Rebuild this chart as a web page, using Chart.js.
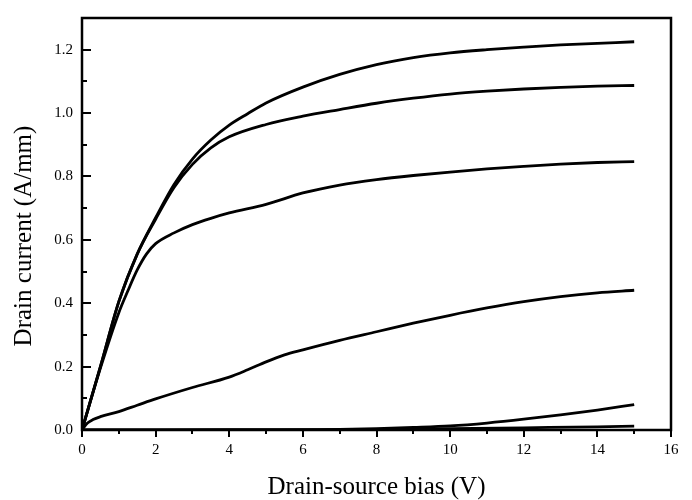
<!DOCTYPE html>
<html>
<head>
<meta charset="utf-8">
<script src="https://cdn.jsdelivr.net/npm/chart.js@4.4.1/dist/chart.umd.min.js"></script>
<style>
    html, body { margin: 0; padding: 0; background: #fff; }
    canvas { display: block; }
</style>
</head>
<body>
<canvas id="ivChart" width="692" height="500"></canvas>
<script>
// Drain current vs drain-source bias, one curve per gate bias (top to bottom)
const bias1 = [0, 0.5, 1, 1.5, 2, 2.5, 3, 3.5, 4, 4.5, 5, 6, 7, 8, 9, 10, 11, 12, 13, 14, 15];
const current1 = [0, 0.2, 0.405, 0.555, 0.67, 0.775, 0.855, 0.915, 0.962, 0.998, 1.032, 1.082, 1.122, 1.153, 1.175, 1.19, 1.2, 1.208, 1.215, 1.22, 1.225];

const bias2 = [0, 0.5, 1, 1.5, 2, 2.5, 3, 3.5, 4, 5, 6, 7, 8, 9, 10, 11, 12, 13, 14, 15];
const current2 = [0, 0.2, 0.405, 0.555, 0.665, 0.765, 0.838, 0.89, 0.925, 0.964, 0.99, 1.011, 1.031, 1.047, 1.06, 1.069, 1.076, 1.081, 1.085, 1.087];

const bias3 = [0, 0.5, 1, 1.25, 1.5, 1.75, 2, 2.5, 3, 3.5, 4, 5, 6, 7, 8, 9, 10, 11, 12, 13, 14, 15];
const current3 = [0, 0.195, 0.37, 0.44, 0.505, 0.555, 0.588, 0.622, 0.648, 0.668, 0.685, 0.712, 0.748, 0.773, 0.79, 0.803, 0.814, 0.824, 0.832, 0.839, 0.844, 0.847];

const bias4 = [0, 0.15, 0.3, 0.5, 1, 1.5, 2, 3, 4, 4.5, 5, 5.5, 6, 7, 8, 9, 10, 11, 12, 13, 14, 15];
const current4 = [0, 0.022, 0.033, 0.042, 0.058, 0.078, 0.098, 0.134, 0.167, 0.19, 0.215, 0.237, 0.253, 0.283, 0.31, 0.337, 0.362, 0.385, 0.405, 0.421, 0.433, 0.441];

const bias5 = [0, 6, 7, 8, 9, 10, 11, 12, 13, 14, 15];
const current5 = [0, 0, 0.002, 0.004, 0.008, 0.013, 0.022, 0.034, 0.048, 0.063, 0.08];

const bias6 = [0, 4, 8, 10, 12, 14, 15];
const current6 = [0, 0.001, 0.002, 0.004, 0.007, 0.01, 0.012];

const xMajorTicks = [0, 2, 4, 6, 8, 10, 12, 14, 16];
const xMinorTicks = [1, 3, 5, 7, 9, 11, 13, 15];
const yMajorTicks = [0, 0.2, 0.4, 0.6, 0.8, 1.0, 1.2];
const yMinorTicks = [0.1, 0.3, 0.5, 0.7, 0.9, 1.1];

const X_TITLE = 'Drain-source bias (V)';
const Y_TITLE = 'Drain current (A/mm)';
const SERIF = '"Liberation Serif", "DejaVu Serif", serif';

const curves = [
    [bias1, current1], [bias2, current2], [bias3, current3],
    [bias4, current4], [bias5, current5], [bias6, current6]
];

const datasets = curves.map(([xs, ys], i) => ({
    label: 'curve ' + (i + 1),
    data: xs.map((x, k) => ({ x, y: ys[k] })),
    showLine: true,
    borderColor: '#000',
    borderWidth: 2.8,
    pointRadius: 0,
    cubicInterpolationMode: 'monotone',
    fill: false
}));

// frame, inward y ticks, outward x ticks, axis titles
const framePlugin = {
    id: 'frame',
    afterDatasetsDraw(chart) {
        const { ctx, chartArea: a, scales: { x, y } } = chart;
        ctx.save();
        ctx.strokeStyle = '#000';
        ctx.lineWidth = 2.5;
        ctx.strokeRect(a.left, a.top, a.right - a.left, a.bottom - a.top);

        ctx.lineWidth = 2;
        ctx.beginPath();
        yMajorTicks.forEach(v => {
            const py = Math.round(y.getPixelForValue(v));
            ctx.moveTo(a.left, py); ctx.lineTo(a.left + 9, py);
        });
        yMinorTicks.forEach(v => {
            const py = Math.round(y.getPixelForValue(v));
            ctx.moveTo(a.left, py); ctx.lineTo(a.left + 5, py);
        });
        xMajorTicks.forEach(v => {
            const px = Math.round(x.getPixelForValue(v));
            ctx.moveTo(px, a.bottom); ctx.lineTo(px, a.bottom + 7);
        });
        xMinorTicks.forEach(v => {
            const px = Math.round(x.getPixelForValue(v));
            ctx.moveTo(px, a.bottom); ctx.lineTo(px, a.bottom + 4);
        });
        ctx.stroke();
        ctx.restore();
    },
    afterDraw(chart) {
        const { ctx, chartArea: a } = chart;
        ctx.save();
        ctx.fillStyle = '#000';
        ctx.font = '25px ' + SERIF;
        ctx.textAlign = 'center';
        ctx.textBaseline = 'middle';
        ctx.fillText(X_TITLE, (a.left + a.right) / 2, 487);
        ctx.translate(24, 236);
        ctx.rotate(-Math.PI / 2);
        ctx.fillText(Y_TITLE, 0, 0);
        ctx.restore();
    }
};

new Chart(document.getElementById('ivChart').getContext('2d'), {
    type: 'scatter',
    data: { datasets },
    options: {
        responsive: false,
        animation: false,
        layout: { padding: { top: 8, right: 21, left: 0, bottom: 0 } },
        plugins: {
            legend: { display: false },
            tooltip: { enabled: false }
        },
        scales: {
            x: {
                type: 'linear',
                min: 0,
                max: 16,
                grid: { display: false, drawTicks: false },
                border: { display: false },
                afterBuildTicks: s => { s.ticks = xMajorTicks.map(value => ({ value })); },
                afterFit: s => { s.height = 70; },
                ticks: {
                    padding: 11,
                    color: '#000',
                    font: { family: SERIF, size: 15 },
                    callback: v => String(v)
                }
            },
            y: {
                type: 'linear',
                min: 0,
                max: 1.3,
                grid: { display: false, drawTicks: false },
                border: { display: false },
                afterBuildTicks: s => { s.ticks = yMajorTicks.map(value => ({ value })); },
                afterFit: s => { s.width = 82; },
                ticks: {
                    padding: 9,
                    color: '#000',
                    font: { family: SERIF, size: 15 },
                    callback: v => Number(v).toFixed(1)
                }
            }
        }
    },
    plugins: [framePlugin]
});
</script>
</body>
</html>
